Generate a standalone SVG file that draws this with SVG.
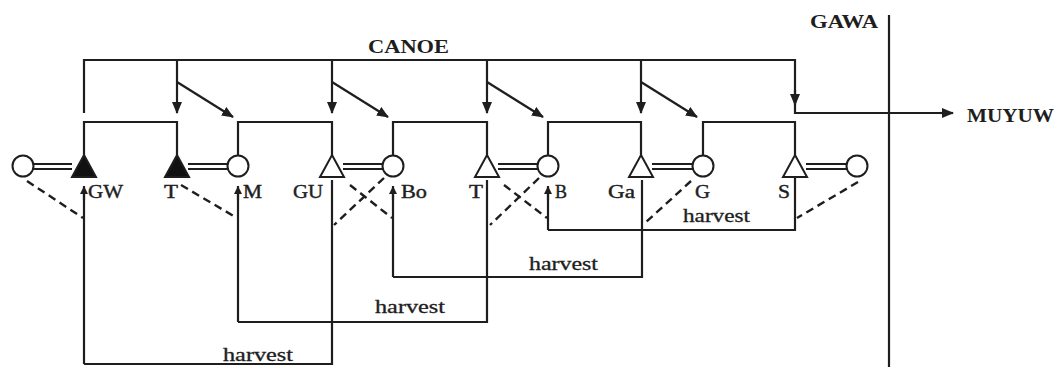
<svg xmlns="http://www.w3.org/2000/svg" width="1060" height="367" viewBox="0 0 1060 367">
<style>
.ln{stroke:#1e1e1e;stroke-width:2.2;fill:none}
.ds{stroke:#1e1e1e;stroke-width:2.4;fill:none;stroke-dasharray:8 5}
.c{stroke:#1e1e1e;stroke-width:2;fill:#fff}
.tf{stroke:#1e1e1e;stroke-width:2;fill:#111}
.to{stroke:#1e1e1e;stroke-width:2;fill:#fff}
.lb{font-family:"Liberation Serif",serif;font-size:18px;fill:#1e1e1e;stroke:#1e1e1e;stroke-width:0.4}
.hv{font-family:"Liberation Serif",serif;font-size:18px;fill:#1e1e1e;stroke:#1e1e1e;stroke-width:0.3}
.big{font-family:"Liberation Serif",serif;font-weight:bold;fill:#1e1e1e}
</style>
<defs>
<marker id="ah" markerUnits="userSpaceOnUse" markerWidth="12" markerHeight="10" refX="11" refY="5" orient="auto">
<path d="M0,0 L12,5 L0,10 Z" fill="#1e1e1e"/>
</marker>
<marker id="sa" markerUnits="userSpaceOnUse" markerWidth="8" markerHeight="8" refX="8" refY="4" orient="auto">
<path d="M0,0 L8,4 L0,8 Z" fill="#1e1e1e"/>
</marker>
</defs>
<rect width="1060" height="367" fill="#fff"/>

<g id="titles">
<text class="big" x="368" y="53" font-size="18" textLength="81" lengthAdjust="spacingAndGlyphs">CANOE</text>
<text class="big" x="810" y="28" font-size="18" textLength="68" lengthAdjust="spacingAndGlyphs">GAWA</text>
<text class="big" x="967" y="122" font-size="19" textLength="87" lengthAdjust="spacingAndGlyphs">MUYUW</text>
</g>

<g id="connectors">
<!-- canoe line -->
<path class="ln" d="M84,113 V60 H795 V100"/>
<line class="ln" x1="795" y1="90" x2="795" y2="105" marker-end="url(#ah)"/>
<path class="ln" d="M795,100 V113 H945"/>
<line class="ln" x1="940" y1="113" x2="953" y2="113" marker-end="url(#ah)"/>
<!-- GAWA boundary -->
<line class="ln" x1="889" y1="15" x2="889" y2="367"/>
<!-- down arrows from canoe -->
<line class="ln" x1="177" y1="60" x2="177" y2="113" marker-end="url(#ah)"/>
<line class="ln" x1="177" y1="82" x2="233" y2="117" marker-end="url(#ah)"/>
<line class="ln" x1="332" y1="60" x2="332" y2="113" marker-end="url(#ah)"/>
<line class="ln" x1="332" y1="82" x2="388" y2="117" marker-end="url(#ah)"/>
<line class="ln" x1="487" y1="60" x2="487" y2="113" marker-end="url(#ah)"/>
<line class="ln" x1="487" y1="82" x2="543" y2="117" marker-end="url(#ah)"/>
<line class="ln" x1="641" y1="60" x2="641" y2="113" marker-end="url(#ah)"/>
<line class="ln" x1="641" y1="82" x2="697" y2="117" marker-end="url(#ah)"/>
<!-- brackets -->
<path class="ln" d="M84,155 V122 H177 V155"/>
<path class="ln" d="M238,156 V122 H332 V155"/>
<path class="ln" d="M393,156 V122 H487 V155"/>
<path class="ln" d="M548,156 V122 H641 V155"/>
<path class="ln" d="M703,156 V122 H795 V155"/>
<!-- double lines (marriage) -->
<path class="ln" stroke-width="1.8" d="M34,164 H72 M34,169 H72 M188,164 H228 M188,169 H228 M343,164 H383 M343,169 H383 M498,164 H538 M498,169 H538 M652,164 H693 M652,169 H693 M806,164 H847 M806,169 H847"/>
<!-- harvest loops -->
<path class="ln" d="M84,364 V192"/>
<line class="ln" x1="84" y1="200" x2="84" y2="186" marker-end="url(#sa)"/>
<path class="ln" d="M84,364 H332 V180"/>
<path class="ln" d="M238,322 V192"/>
<line class="ln" x1="238" y1="200" x2="238" y2="186" marker-end="url(#sa)"/>
<path class="ln" d="M238,322 H487 V180"/>
<path class="ln" d="M393,277 V192"/>
<line class="ln" x1="393" y1="200" x2="393" y2="186" marker-end="url(#sa)"/>
<path class="ln" d="M393,277 H642 V180"/>
<path class="ln" d="M548,230 V192"/>
<line class="ln" x1="548" y1="200" x2="548" y2="186" marker-end="url(#sa)"/>
<path class="ln" d="M548,230 H795 V178"/>
<!-- dashed kin links -->
<line class="ds" x1="27" y1="181" x2="83" y2="218"/>
<line class="ds" x1="181" y1="185" x2="237" y2="218"/>
<line class="ds" x1="350" y1="185" x2="392" y2="218"/>
<line class="ds" x1="384" y1="178" x2="334" y2="225"/>
<line class="ds" x1="504" y1="185" x2="547" y2="218"/>
<line class="ds" x1="539" y1="178" x2="490" y2="225"/>
<line class="ds" x1="691" y1="181" x2="645" y2="223"/>
<line class="ds" x1="858" y1="182" x2="797" y2="218"/>
</g>

<g id="n1"><circle class="c" cx="23" cy="166" r="10.5"/></g>
<g id="n-GW"><polygon class="tf" points="84,155 96,177 72,177"/><text class="lb" x="88" y="198" textLength="35" lengthAdjust="spacingAndGlyphs">GW</text></g>
<g id="n-T1"><polygon class="tf" points="177,155 189,177 165,177"/><text class="lb" x="164" y="198" textLength="14" lengthAdjust="spacingAndGlyphs">T</text></g>
<g id="n-M"><circle class="c" cx="238" cy="166" r="10.5"/><text class="lb" x="243" y="198" textLength="19" lengthAdjust="spacingAndGlyphs">M</text></g>
<g id="n-GU"><polygon class="to" points="332,155 344,177 320,177"/><text class="lb" x="293" y="198" textLength="30" lengthAdjust="spacingAndGlyphs">GU</text></g>
<g id="n-Bo"><circle class="c" cx="393" cy="166" r="10.5"/><text class="lb" x="401" y="198" textLength="26" lengthAdjust="spacingAndGlyphs">Bo</text></g>
<g id="n-T2"><polygon class="to" points="487,155 499,177 475,177"/><text class="lb" x="469" y="198" textLength="14" lengthAdjust="spacingAndGlyphs">T</text></g>
<g id="n-B"><circle class="c" cx="548" cy="166" r="10.5"/><text class="lb" x="555" y="198" textLength="12" lengthAdjust="spacingAndGlyphs">B</text></g>
<g id="n-Ga"><polygon class="to" points="641,155 653,177 629,177"/><text class="lb" x="608" y="198" textLength="27" lengthAdjust="spacingAndGlyphs">Ga</text></g>
<g id="n-G"><circle class="c" cx="703" cy="166" r="10.5"/><text class="lb" x="695" y="198" textLength="15" lengthAdjust="spacingAndGlyphs">G</text></g>
<g id="n-S"><polygon class="to" points="795,155 807,177 783,177"/><text class="lb" x="778" y="198" textLength="12" lengthAdjust="spacingAndGlyphs">S</text></g>
<g id="n12"><circle class="c" cx="857" cy="166" r="10.5"/></g>

<g id="harvest-labels">
<text class="hv" x="223" y="361" textLength="70" lengthAdjust="spacingAndGlyphs">harvest</text>
<text class="hv" x="375" y="313" textLength="70" lengthAdjust="spacingAndGlyphs">harvest</text>
<text class="hv" x="529" y="270" textLength="69" lengthAdjust="spacingAndGlyphs">harvest</text>
<text class="hv" x="683" y="222" textLength="67" lengthAdjust="spacingAndGlyphs">harvest</text>
</g>
</svg>
